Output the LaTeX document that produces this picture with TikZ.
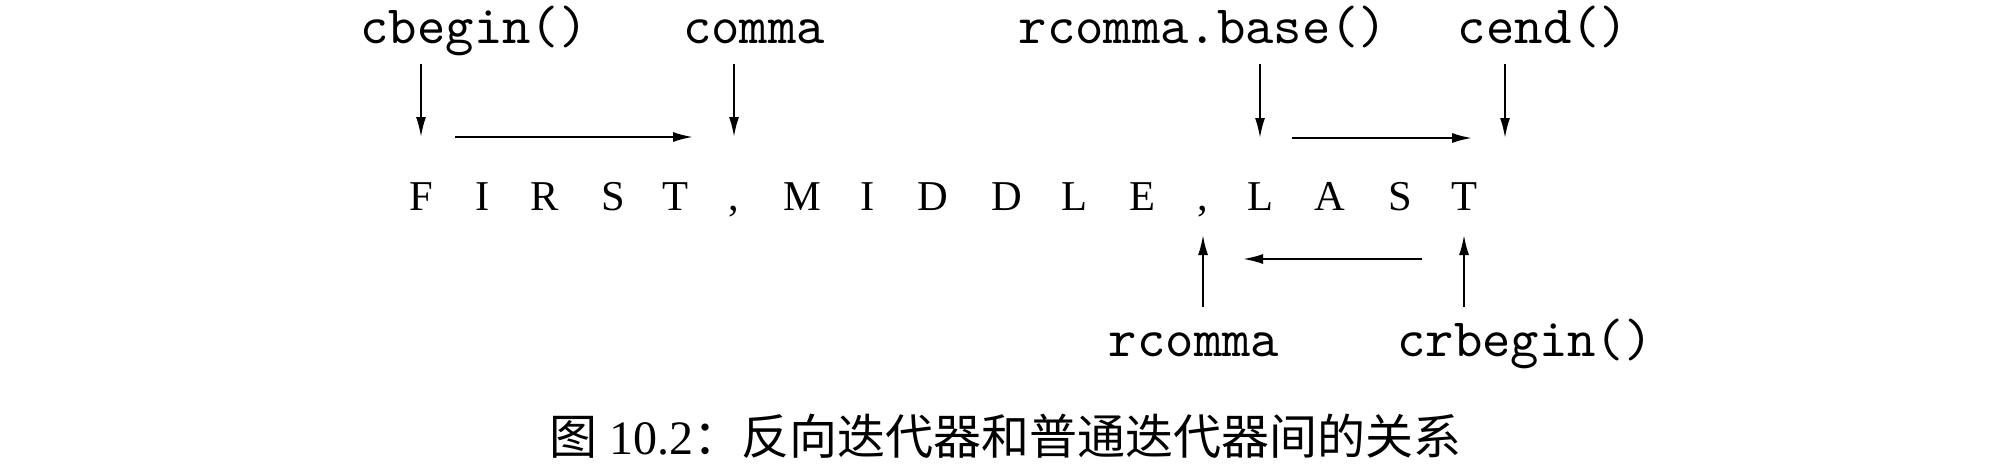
\documentclass[tikz,border=0pt]{standalone}
\usepackage{fontspec}
\setmainfont{Liberation Serif}
\newfontfamily\cjk{Noto Sans CJK SC}
\usepackage{tikz}
\usetikzlibrary{arrows.meta,positioning,calc}
\tikzstyle{letter} = [inner sep=0pt, anchor=base, font=\fontsize{8.5}{10}\selectfont]
\tikzstyle{ptrname} = [inner sep=0pt, anchor=base, font=\ttfamily\fontsize{10.8}{12}\selectfont]
\tikzstyle{ptr}  = [draw, line width=0.4pt, -{Latex[length=4pt,width=2pt]}]

\begin{document}
\begin{tikzpicture}[x=0.2pt, y=-0.2pt]
\useasboundingbox (0,0) rectangle (1998,467);

% sequence =============================
\foreach \ch/\x/\nm in {F/421/F, I/483/I1, R/545/R, S/613/S1, T/675/T1, {,}/734/c1, M/802/M, I/868/I2, D/933/D1, D/1007/D2, L/1074/L1, E/1142/E, {,}/1203/c2, L/1260/L2, A/1330/A, S/1400/S2, T/1464/T2}
  \node[letter] (\nm) at (\x,210) {\ch};
\coordinate (past) at (1505,210);

% iterators
\node[ptrname] (cbegin) at (474,43) {cbegin()};
\node[ptrname] (comma) at (754,43) {comma};
\node[ptrname] (rbase) at (1203,43) {rcomma.base()};
\node[ptrname] (cend) at (1543,43) {cend()};
\node[ptrname] (rcomma) at (1194,356) {rcomma};
\node[ptrname] (crbegin) at (1525,356) {crbegin()};

% edges
\path[ptr] ($(F |- cbegin.base)+(0,21)$) -- ($(F.base)+(0,-73)$);
\path[ptr] ($(c1 |- comma.base)+(0,21)$) -- ($(c1.base)+(0,-73)$);
\path[ptr] ($(F.base)+(34,-73)$) -- ($(c1.base)+(-41,-73)$);
\path[ptr] ($(L2 |- rbase.base)+(0,21)$) -- ($(L2.base)+(0,-72)$);
\path[ptr] ($(past |- cend.base)+(0,21)$) -- ($(past)+(0,-72)$);
\path[ptr] ($(L2.base)+(32,-72)$) -- ($(past)+(-33,-72)$);
\path[ptr] ($(c2 |- rcomma.base)+(0,-49)$) -- ($(c2.base)+(0,25)$);
\path[ptr] ($(T2 |- crbegin.base)+(0,-49)$) -- ($(T2.base)+(0,25)$);
\path[ptr] ($(T2.base)+(-42,49)$) -- ($(c2.base)+(40,49)$);

% caption
\node[anchor=base, inner sep=0pt, font=\fontsize{9.6}{11}\selectfont] (caption) at (1005,454) {{\cjk 图} 10.2{\cjk ：反向迭代器和普通迭代器间的关系}};

\end{tikzpicture}
\end{document}
